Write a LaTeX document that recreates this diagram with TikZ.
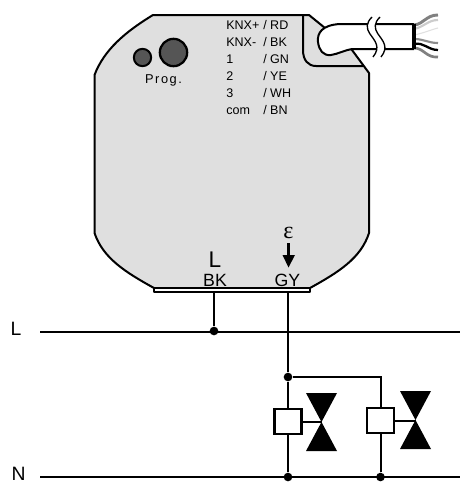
\documentclass[tikz,border=0pt]{standalone}
\usepackage{fontspec}
\setmainfont{Liberation Sans}
\newfontfamily\grk{Liberation Serif}
\definecolor{body}{HTML}{DFDFDF}
\definecolor{led}{HTML}{555555}
\tikzset{x=0.75pt,y=-0.75pt,
 wire/.style={line width=1.5pt,black},
 edge/.style={line width=1.5pt,black,line join=round},
 lbl/.style={inner sep=0pt,anchor=base west,font=\fontsize{9.4pt}{10pt}\selectfont},
 big/.style={inner sep=0pt,anchor=base,font=\fontsize{13.3pt}{14pt}\selectfont},
 rail/.style={inner sep=0pt,anchor=base,font=\fontsize{14.5pt}{15pt}\selectfont},
 dot/.style={circle,fill=black,inner sep=0pt,minimum size=6.5pt},
 coil/.style={draw=black,fill=white,line width=1.9pt,minimum width=20pt,minimum height=18.7pt,inner sep=0pt},
 valve/.style={fill=black,draw=none}}
\begin{document}
\begin{tikzpicture}
\useasboundingbox (0,0) rectangle (460,482);
\fill[white] (0,0) rectangle (460,482);
% body
\draw[edge,fill=body] (153,15) -- (309,15) -- (352,50) -- (369,73) -- (369,233)
  .. controls (361,258) and (339,272) .. (310,288) -- (154,288)
  .. controls (125,272) and (103,258) .. (94.5,233) -- (94.5,75)
  .. controls (104,50) and (125,32) .. (153,15) -- cycle;
\draw[edge,fill=white] (154,288) rectangle (310,292);
% notch
\draw[edge] (303,15) -- (303,50) .. controls (303,60) and (308,66) .. (316,66) -- (363,66);
% cable
\draw[edge,fill=white] (414,24) -- (340,24) .. controls (322,25) and (317,33) .. (318,42)
  .. controls (319,50) and (323,56) .. (331,55) .. controls (338,54) and (345,50) .. (352,49) -- (414,49);
\fill[white] (372,17) .. controls (366,23) and (366,28) .. (370,34) .. controls (375,41) and (381,47) .. (373,57)
 -- (381,57) .. controls (389,47) and (383,41) .. (378,34) .. controls (374,28) and (374,23) .. (380,17) -- cycle;
\draw[line width=1pt] (372,17) .. controls (366,23) and (366,28) .. (370,34) .. controls (375,41) and (381,47) .. (373,57);
\draw[line width=1pt] (380,17) .. controls (374,23) and (374,28) .. (378,34) .. controls (383,41) and (389,47) .. (381,57);
% cable end wires
\draw[color=gray,line width=2.2pt] (414,25) .. controls (424,24) and (426,15) .. (438,15);
\draw[color=black!20,line width=1.6pt] (414,29) .. controls (424,27) and (428,20) .. (438,20);
\draw[color=black!12,line width=.8pt] (414,35) .. controls (424,33) and (430,30) .. (438,28);
\draw[color=black!45,line width=1.6pt] (414,39) .. controls (424,39) and (428,43) .. (438,43);
\draw[black,line width=1.7pt] (414,44) .. controls (424,42) and (428,50) .. (438,50);
\draw[color=gray,line width=2pt] (414,48) .. controls (424,48) and (426,58) .. (438,57);
\draw[line width=2.4pt] (414,24) -- (414,49);
% LEDs
\node[draw=black,fill=led,line width=1.5pt,circle,minimum size=13pt,inner sep=0pt] (small) at (142.5,57.5) {};
\node[draw=black,fill=led,line width=1.7pt,circle,minimum size=20.5pt,inner sep=0pt] (large) at (173.5,52.5) {};
\node[inner sep=0pt,anchor=base,font=\fontsize{9.6pt}{10pt}\selectfont] (progt) at (163.5,83) {P\hspace{1.2pt}r\hspace{1.2pt}o\hspace{1.2pt}g\hspace{1.2pt}.};
% terminal labels
\node[lbl] (a1) at (226,29) {KNX+}; \node[lbl] (b1) at (263,29) {/ RD};
\node[lbl] (a2) at (226,46) {KNX-}; \node[lbl] (b2) at (263,46) {/ BK};
\node[lbl] (a3) at (226,63) {1};    \node[lbl] (b3) at (263,63) {/ GN};
\node[lbl] (a4) at (226,80) {2};    \node[lbl] (b4) at (263,80) {/ YE};
\node[lbl] (a5) at (226,97) {3};    \node[lbl] (b5) at (263,97) {/ WH};
\node[lbl] (a6) at (226,114) {com}; \node[lbl] (b6) at (263,114) {/ BN};
% bottom labels
\node[big,font=\fontsize{17pt}{18pt}\selectfont] (Lt) at (215,267) {L};
\node[big] (BK) at (215,286) {BK};
\node[big] (GY) at (287.5,286) {GY};
\node[inner sep=0pt,anchor=base,font=\grk\fontsize{18pt}{19pt}\selectfont] (eps) at (288.5,238) {ε};
\coordinate (ar1) at (288.5,243);
\draw[line width=1.6pt] (ar1) -- (288.5,256);
\fill (282.5,255) -- (295,255) -- (288.5,267.5) -- cycle;
% mains
\node[rail] (L) at (16,335) {L};
\node[rail] (N) at (18.5,480) {N};
\coordinate (La) at (40,332);\coordinate (Lb) at (460,332);
\coordinate (Na) at (40,477);\coordinate (Nb) at (460,477);
\draw[line width=1.2pt] (La) -- (Lb);
\draw[line width=1.2pt] (Na) -- (Nb);
\node[dot] (d1) at (214,331) {};
\node[dot] (d2) at (288,377) {};
\node[dot] (d3) at (288,477) {};
\node[dot] (d4) at (380.5,477) {};
\coordinate (corner) at (380.5,377);
\draw[wire] (214,292) -- (d1);
\draw[wire] (288,292) -- (d2);
\node[coil] (c1) at (288,421.5) {};
\node[coil] (c2) at (380.5,420.5) {};
\draw[wire] (d2) -- (c1);
\draw[wire] (c1) -- (d3);
\draw[wire] (d2) -- (corner) -- (c2);
\draw[wire] (c2) -- (d4);
% valves
\fill[valve] (306,393) -- (337,393) -- (306,451) -- (337,451) -- cycle;
\fill[valve] (400,391) -- (431,391) -- (400,449) -- (431,449) -- cycle;
\coordinate (v1) at (321.5,421.5);
\coordinate (v2) at (415.5,420.5);
\draw[wire] (c1) -- (v1);
\draw[wire] (c2) -- (v2);
\end{tikzpicture}
\end{document}
